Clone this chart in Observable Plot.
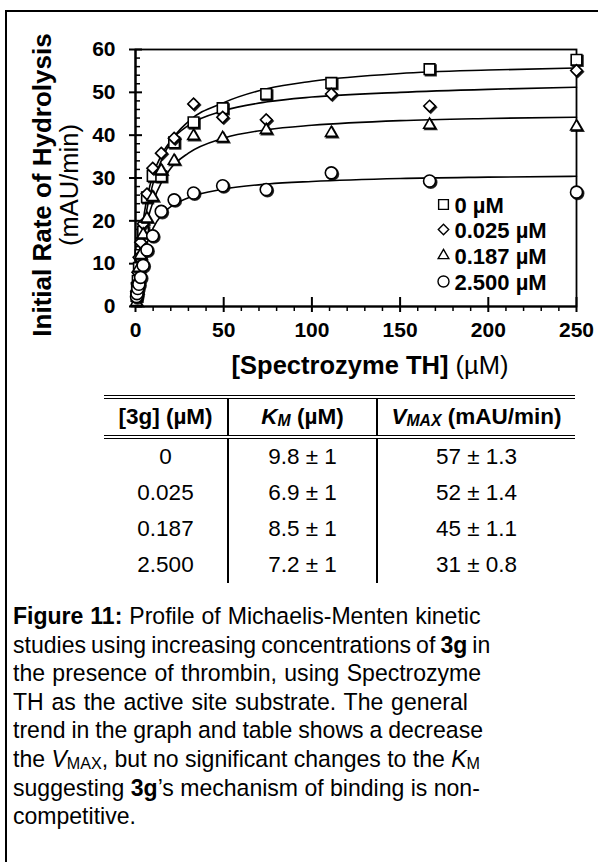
<!DOCTYPE html>
<html><head><meta charset="utf-8">
<script src="https://cdn.jsdelivr.net/npm/d3@7"></script>
<script src="https://cdn.jsdelivr.net/npm/@observablehq/plot@0.6"></script>
<style>
html,body{margin:0;padding:0;width:598px;height:862px;overflow:hidden;background:#fff;font-family:"Liberation Sans",Arial,Helvetica,sans-serif;color:#000}
#border{position:absolute;left:5px;top:10px;width:800px;height:1000px;border-left:2px solid #000;border-top:2px solid #000;box-sizing:border-box}
#chart{position:absolute;left:0;top:0}
#tbl{position:absolute;left:104px;top:395px;border-collapse:collapse;font-size:22.5px;table-layout:fixed}
#tbl th,#tbl td{padding:0;text-align:center;vertical-align:middle;white-space:nowrap}
#tbl th{height:36px;font-weight:bold;border-top:4px double #000;border-bottom:4px double #000}
#tbl td{height:36px}
#tbl th+th,#tbl td+td{border-left:2px solid #000}
#tbl sub{font-size:0.7em;vertical-align:-0.15em;line-height:0}
#caption{position:absolute;left:13px;top:602px;font-size:24.5px;line-height:28.6px;white-space:nowrap;transform:scaleX(0.94);transform-origin:0 0}
#caption > div{height:28.6px;overflow:visible}
#caption sub{font-size:0.7em;vertical-align:-0.12em;line-height:0}
</style>
</head><body>
<div id="border"></div>
<div id="chart"></div>
<table id="tbl"><colgroup><col style="width:124px"><col style="width:149px"><col style="width:198px"></colgroup>
<thead><tr><th>[3g] (µM)</th><th><i>K<sub>M</sub></i> (µM)</th><th><i>V<sub>MAX</sub></i> (mAU/min)</th></tr></thead>
<tbody id="tbody"></tbody></table>
<div id="caption">
<div style="word-spacing:0.6px"><b>Figure 11:</b> Profile of Michaelis-Menten kinetic</div>
<div style="word-spacing:-1.4px">studies using increasing concentrations of <b>3g</b> in</div>
<div style="word-spacing:1px">the presence of thrombin, using Spectrozyme</div>
<div style="word-spacing:1.5px">TH as the active site substrate. The general</div>
<div style="word-spacing:-0.5px">trend in the graph and table shows a decrease</div>
<div>the <i>V</i><sub>MAX</sub>, but no significant changes to the <i>K</i><sub>M</sub></div>
<div>suggesting <b>3g</b>’s mechanism of binding is non-</div>
<div>competitive.</div>
</div>
<script>
// ---- data ----
const conc = [0.57, 0.86, 1.28, 1.93, 2.89, 4.33, 6.5, 9.75, 14.6, 21.9, 32.9, 49.4, 74.1, 111, 166.7, 250];
const rate0    = [2.5, 4.0, 6.0, 9.0, 12.0, 17.5, 25.5, 30.5, 30.4, 38.3, 43.0, 46.3, 49.6, 52.2, 55.4, 57.6];
const rate025  = [3.5, 5.5, 8.0, 11.5, 15.0, 19.3, 26.3, 32.3, 35.8, 39.3, 47.3, 44.2, 43.6, 49.6, 46.8, 55.1];
const rate187  = [1.0, 4.0, 6.0, 9.0, 12.0, 16.8, 20.5, 25.5, 31.7, 34.0, 39.8, 39.3, 41.2, 40.5, 42.4, 42.0];
const rate2500 = [2.3, 3.0, 4.2, 5.2, 6.8, 9.6, 13.2, 16.5, 22.2, 24.9, 26.5, 28.2, 27.3, 31.2, 29.3, 26.7];

const fitX    = [0, 1, 2, 3, 5, 7, 10, 15, 20, 30, 50, 75, 100, 150, 200, 250];
const fit0    = [0, 5.3, 9.7, 13.4, 19.3, 23.8, 28.8, 34.4, 38.5, 43.2, 47.6, 50.9, 52.6, 54.4, 55.2, 55.7];
const fit025  = [0, 6.6, 11.7, 15.8, 21.8, 26.2, 30.8, 35.6, 38.7, 42.3, 45.7, 47.8, 48.9, 50.0, 50.7, 51.2];
const fit187  = [0, 4.7, 8.6, 11.8, 16.8, 20.4, 24.5, 29.2, 32.3, 35.8, 39.3, 41.3, 42.3, 43.4, 43.9, 44.2];
const fit2500 = [0, 3.8, 6.7, 9.1, 12.7, 15.3, 18.3, 21.5, 23.3, 25.4, 27.4, 28.6, 29.2, 29.9, 30.2, 30.4];

const seriesNames = ["0 µM", "0.025 µM", "0.187 µM", "2.500 µM"];
const xTicks = [0, 50, 100, 150, 200, 250];
const yTicks = [0, 10, 20, 30, 40, 50, 60];
const xMinor = [10, 20, 30, 40, 60, 70, 80, 90, 110, 120, 130, 140, 160, 170, 180, 190, 210, 220, 230, 240];
const yMinor = [2, 4, 6, 8, 12, 14, 16, 18, 22, 24, 26, 28, 32, 34, 36, 38, 42, 44, 46, 48, 52, 54, 56, 58];

const tblConc = ["0", "0.025", "0.187", "2.500"];
const tblKm = ["9.8 ± 1", "6.9 ± 1", "8.5 ± 1", "7.2 ± 1"];
const tblVmax = ["57 ± 1.3", "52 ± 1.4", "45 ± 1.1", "31 ± 0.8"];

// ---- chart ----
const W = 598, H = 390, ML = 135, MR = 22, MT = 49, MB = 84;
const FW = W - ML - MR, FH = H - MT - MB;
const rates = [rate0, rate025, rate187, rate2500];
const fits = [fit0, fit025, fit187, fit2500];
const sym = ["square", "diamond2", "triangle2", "circle"];
const rad = [6, 5.2, 5.6, 6];

const pts = rates.map(r => conc.map((x, i) => ({x, y: r[i]})));
const crv = fits.map(f => fitX.map((x, i) => ({x, y: f[i]})));

const marks = [
  Plot.frame({stroke: "#000", strokeWidth: 1.8}),
  Plot.tickY(yTicks, {y: d => d, insetLeft: -6, insetRight: FW - 7, strokeWidth: 2}),
  Plot.tickY(yMinor, {y: d => d, insetLeft: 0, insetRight: FW - 5, strokeWidth: 1.5}),
  Plot.tickX(xTicks, {x: d => d, insetTop: FH - 9, insetBottom: -6, strokeWidth: 2}),
  Plot.tickX(xMinor, {x: d => d, insetTop: FH, insetBottom: -5, strokeWidth: 1.5}),
  Plot.ruleX([0], {stroke: "#000", strokeWidth: 2.2}),
  Plot.ruleY([0], {stroke: "#000", strokeWidth: 2.2}),
  Plot.axisX(xTicks, {tickSize: 0, tickPadding: 16, fontSize: 21, fontWeight: "bold", label: null}),
  Plot.axisY(yTicks, {tickSize: 0, tickPadding: 20, fontSize: 21, fontWeight: "bold", label: null}),
];
crv.forEach(c => marks.push(Plot.line(c, {x: "x", y: "y", curve: "monotone-x", stroke: "#000", strokeWidth: 1.6})));
pts.forEach((p, k) => {
  marks.push(Plot.dot(p, {x: "x", y: "y", symbol: sym[k], r: rad[k], fill: "#000", stroke: "#000", strokeWidth: 1.6, dx: 1.2, dy: 1.2, fillOpacity: 0.8, strokeOpacity: 0.8}));
  marks.push(Plot.dot(p, {x: "x", y: "y", symbol: sym[k], r: rad[k], fill: "#fff", stroke: "#000", strokeWidth: 1.6}));
});
// legend (inside frame, bottom-right)
const legDy = [-102, -77, -51, -25];
seriesNames.forEach((name, k) => {
  marks.push(Plot.dot([name], {x: null, y: null, frameAnchor: "bottom-right", dx: -133, dy: legDy[k], symbol: sym[k], r: rad[k] - 0.5, fill: "#fff", stroke: "#000", strokeWidth: 1.4}));
  marks.push(Plot.text([name], {x: null, y: null, text: d => d, frameAnchor: "bottom-right", dx: -122, dy: legDy[k] + 1, textAnchor: "start", lineAnchor: "middle", fontSize: 22, fontWeight: "bold"}));
});

const chart = Plot.plot({
  width: W, height: H,
  marginLeft: ML, marginRight: MR, marginTop: MT, marginBottom: MB,
  x: {domain: [0, 250], axis: null},
  y: {domain: [0, 60], axis: null},
  style: {fontFamily: '"Liberation Sans", Arial, sans-serif', color: "#000", background: "transparent", overflow: "visible"},
  marks
});
document.getElementById("chart").appendChild(chart);

// axis titles
const svg = d3.select(chart);
svg.append("text").attr("transform", "translate(51,185) rotate(-90)")
  .attr("text-anchor", "middle").attr("font-size", 26).attr("font-weight", "bold")
  .attr("fill", "#000").text("Initial Rate of Hydrolysis");
svg.append("text").attr("transform", "translate(78,185) rotate(-90)")
  .attr("text-anchor", "middle").attr("font-size", 25.5).attr("fill", "#000").text("(mAU/min)");
const xl = svg.append("text").attr("x", 370).attr("y", 374).attr("text-anchor", "middle")
  .attr("font-size", 25.5).attr("fill", "#000");
xl.append("tspan").attr("font-weight", "bold").text("[Spectrozyme TH]");
xl.append("tspan").text(" (µM)");

// table rows
const tb = document.getElementById("tbody");
tblConc.forEach((c, i) => {
  const tr = document.createElement("tr");
  [c, tblKm[i], tblVmax[i]].forEach(v => { const td = document.createElement("td"); td.textContent = v; tr.appendChild(td); });
  tb.appendChild(tr);
});
</script>
</body></html>
